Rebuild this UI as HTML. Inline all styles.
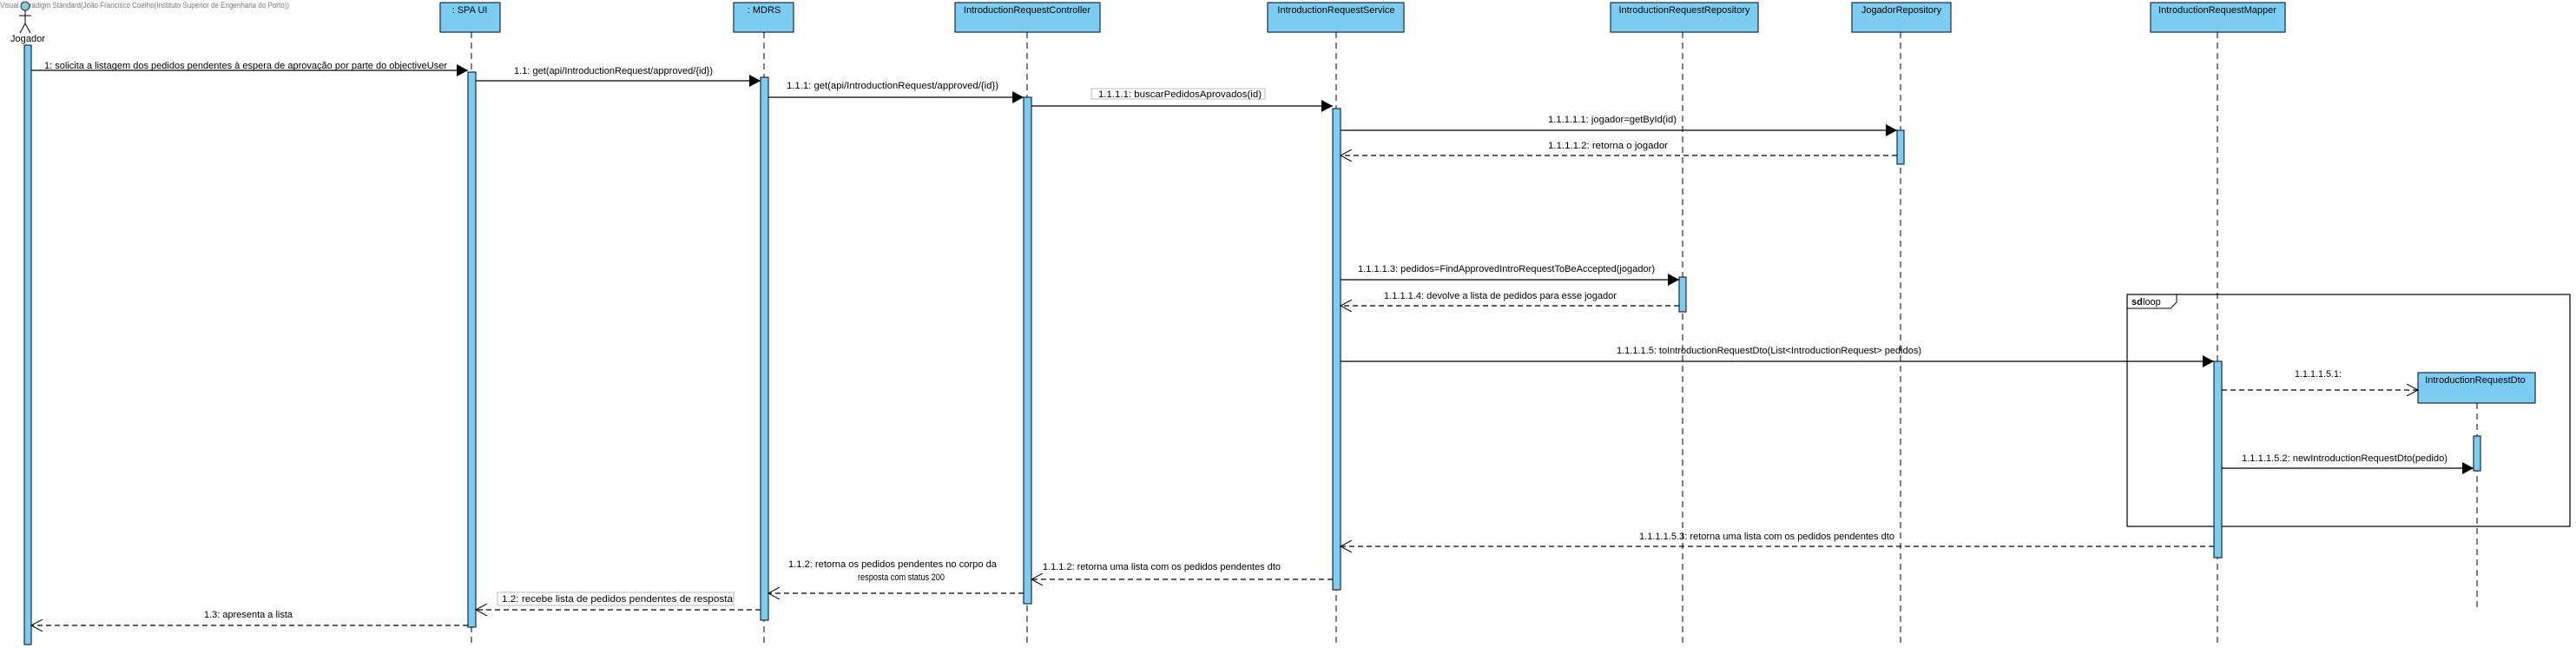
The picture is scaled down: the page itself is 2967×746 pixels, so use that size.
<!DOCTYPE html>
<html><head><meta charset="utf-8"><style>
html,body{margin:0;padding:0;background:#fff;}
svg{display:block;}
text{font-family:"Liberation Sans",sans-serif;font-size:11px;fill:#000;}
</style></head><body>
<svg width="2967" height="746" viewBox="0 0 2967 746" xmlns="http://www.w3.org/2000/svg">
<defs>
<marker id="f" markerWidth="14" markerHeight="14" refX="13" refY="7" orient="auto" markerUnits="userSpaceOnUse"><path d="M0,0 L13,7 L0,14 z" fill="#000"/></marker>
<marker id="o" markerWidth="14" markerHeight="14" refX="13" refY="7" orient="auto" markerUnits="userSpaceOnUse"><path d="M0,0 L13,7 L0,14" fill="none" stroke="#000" stroke-width="1"/></marker>
</defs>
<text x="0" y="9" style="font-size:9px;fill:#777" textLength="333" lengthAdjust="spacingAndGlyphs">Visual Paradigm Standard(João Francisco Coelho(Instituto Superior de Engenharia do Porto))</text>
<!-- actor -->
<circle cx="29" cy="7" r="5" fill="#8ec8e0" stroke="#333"/>
<line x1="29" y1="12" x2="29" y2="27" stroke="#000"/>
<line x1="22" y1="18" x2="36" y2="18" stroke="#000"/>
<line x1="29" y1="27" x2="23" y2="38" stroke="#000"/>
<line x1="29" y1="27" x2="35" y2="38" stroke="#000"/>
<text x="12" y="48" textLength="40" lengthAdjust="spacingAndGlyphs">Jogador</text>
<!-- boxes -->
<g fill="#7dcdf3" stroke="#1a2a3a" stroke-width="1.2">
<rect x="507" y="3" width="69" height="34"/>
<rect x="845" y="3" width="69" height="34"/>
<rect x="1100" y="3" width="167" height="34"/>
<rect x="1460" y="3" width="157" height="34"/>
<rect x="1855" y="3" width="170" height="34"/>
<rect x="2133" y="3" width="114" height="34"/>
<rect x="2477" y="3" width="155" height="34"/>
<rect x="2785" y="429" width="135" height="35"/>
</g>
<g text-anchor="middle">
<text x="541" y="15">: SPA UI</text>
<text x="880" y="15">: MDRS</text>
<text x="1183" y="15">IntroductionRequestController</text>
<text x="1539" y="15">IntroductionRequestService</text>
<text x="1940" y="15">IntroductionRequestRepository</text>
<text x="2190" y="15">JogadorRepository</text>
<text x="2554" y="15">IntroductionRequestMapper</text>
<text x="2851" y="441">IntroductionRequestDto</text>
</g>
<!-- lifelines -->
<g stroke="#000" stroke-dasharray="7,5" stroke-width="1">
<line x1="543" y1="37" x2="543" y2="742"/>
<line x1="880" y1="37" x2="880" y2="742"/>
<line x1="1183" y1="37" x2="1183" y2="742"/>
<line x1="1539" y1="37" x2="1539" y2="742"/>
<line x1="1938" y1="37" x2="1938" y2="742"/>
<line x1="2189" y1="37" x2="2189" y2="742"/>
<line x1="2554" y1="37" x2="2554" y2="742"/>
<line x1="2853" y1="464" x2="2853" y2="700"/>
</g>
<!-- loop frame -->
<rect x="2450" y="339" width="510" height="267" fill="none" stroke="#000" stroke-width="1.2"/>
<path d="M2450,355 L2500,355 L2507,348 L2507,339" fill="none" stroke="#000"/>
<text x="2455" y="351" style="font-weight:bold">sd</text><text x="2468" y="351">loop</text>
<!-- activations -->
<g fill="#7dcdf3" stroke="#1a2a3a" stroke-width="1.2">
<rect x="28" y="52" width="8" height="690"/>
<rect x="539" y="83" width="9" height="639"/>
<rect x="876" y="89" width="9" height="625"/>
<rect x="1179" y="112" width="9" height="583"/>
<rect x="1535" y="125" width="9" height="554"/>
<rect x="1934" y="319" width="8" height="40"/>
<rect x="2185" y="150" width="8" height="39"/>
<rect x="2550" y="416" width="9" height="226"/>
<rect x="2849" y="502" width="8" height="40"/>
</g>
<!-- sync messages -->
<g stroke="#000" stroke-width="1.2" marker-end="url(#f)">
<line x1="36" y1="81" x2="539" y2="81"/>
<line x1="548" y1="93" x2="876" y2="93"/>
<line x1="885" y1="112" x2="1179" y2="112"/>
<line x1="1188" y1="122" x2="1535" y2="122"/>
<line x1="1544" y1="150" x2="2185" y2="150"/>
<line x1="1544" y1="322" x2="1934" y2="322"/>
<line x1="1544" y1="416" x2="2550" y2="416"/>
<line x1="2559" y1="539" x2="2849" y2="539"/>
</g>
<!-- returns -->
<g stroke="#000" stroke-width="1.2" stroke-dasharray="6,4" marker-end="url(#o)">
<line x1="2185" y1="179" x2="1544" y2="179"/>
<line x1="1934" y1="352" x2="1544" y2="352"/>
<line x1="2559" y1="449" x2="2785" y2="449"/>
<line x1="2550" y1="629" x2="1544" y2="629"/>
<line x1="1535" y1="667" x2="1188" y2="667"/>
<line x1="1179" y1="683" x2="885" y2="683"/>
<line x1="876" y1="702" x2="548" y2="702"/>
<line x1="539" y1="720" x2="36" y2="720"/>
</g>
<!-- label boxes -->
<rect x="1257" y="102" width="200" height="12" fill="#fff" stroke="#bbb"/>
<rect x="573" y="682" width="272" height="15" fill="#fff" stroke="#bbb"/>
<!-- labels -->
<g lengthAdjust="spacingAndGlyphs">
<text x="51" y="79" textLength="464" lengthAdjust="spacingAndGlyphs">1: solicita a listagem dos pedidos pendentes à espera de aprovação por parte do objectiveUser</text>
<text x="592" y="85" textLength="229" lengthAdjust="spacingAndGlyphs">1.1: get(api/IntroductionRequest/approved/{id})</text>
<text x="906" y="102" textLength="244" lengthAdjust="spacingAndGlyphs">1.1.1: get(api/IntroductionRequest/approved/{id})</text>
<text x="1265" y="112" textLength="188" lengthAdjust="spacingAndGlyphs">1.1.1.1: buscarPedidosAprovados(id)</text>
<text x="1783" y="141" textLength="148" lengthAdjust="spacingAndGlyphs">1.1.1.1.1: jogador=getById(id)</text>
<text x="1783" y="171" textLength="138" lengthAdjust="spacingAndGlyphs">1.1.1.1.2: retorna o jogador</text>
<text x="1564" y="313" textLength="342" lengthAdjust="spacingAndGlyphs">1.1.1.1.3: pedidos=FindApprovedIntroRequestToBeAccepted(jogador)</text>
<text x="1594" y="344" textLength="268" lengthAdjust="spacingAndGlyphs">1.1.1.1.4: devolve a lista de pedidos para esse jogador</text>
<text x="1862" y="407" textLength="351" lengthAdjust="spacingAndGlyphs">1.1.1.1.5: toIntroductionRequestDto(List&lt;IntroductionRequest&gt; pedidos)</text>
<text x="2643" y="434" textLength="54" lengthAdjust="spacingAndGlyphs">1.1.1.1.5.1:</text>
<text x="2582" y="531" textLength="237" lengthAdjust="spacingAndGlyphs">1.1.1.1.5.2: newIntroductionRequestDto(pedido)</text>
<text x="1888" y="621" textLength="294" lengthAdjust="spacingAndGlyphs">1.1.1.1.5.3: retorna uma lista com os pedidos pendentes dto</text>
<text x="1201" y="656" textLength="274" lengthAdjust="spacingAndGlyphs">1.1.1.2: retorna uma lista com  os pedidos pendentes dto</text>
<text x="908" y="653" textLength="240" lengthAdjust="spacingAndGlyphs">1.1.2: retorna os pedidos pendentes no corpo da</text>
<text x="988" y="668" textLength="100" lengthAdjust="spacingAndGlyphs">resposta com status 200</text>
<text x="578" y="693" textLength="266" lengthAdjust="spacingAndGlyphs">1.2: recebe  lista de pedidos pendentes de resposta</text>
<text x="235" y="711" textLength="102" lengthAdjust="spacingAndGlyphs">1.3: apresenta a lista</text>
</g>
</svg>
</body></html>
